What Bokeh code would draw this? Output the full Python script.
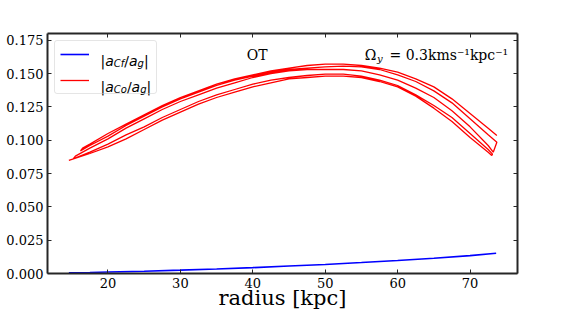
from bokeh.plotting import figure
from bokeh.models import (Range1d, LinearAxis, FixedTicker, PrintfTickFormatter,
                          CustomJSTickFormatter, Label, Legend, LegendItem)
from bokeh.embed import file_html
from bokeh.resources import INLINE

# ---------------- data ----------------
x_ticks = [20, 30, 40, 50, 60, 70]
y_ticks = [0.0, 0.025, 0.05, 0.075, 0.1, 0.125, 0.15, 0.175]
x_limits = [11.65, 76.55]
y_limits = [0.0, 0.18]

# |a_Cf/a_g|  (blue)
blue_r = [14.6, 17.5, 20, 25, 30, 35, 40, 45, 50, 55, 60, 65, 70, 73.6]
blue_v = [0.0006, 0.0008, 0.0011, 0.0017, 0.0025, 0.0034, 0.0044, 0.0056,
          0.0068, 0.0082, 0.0097, 0.0114, 0.0134, 0.0152]

# |a_Co/a_g|  (red) -- successive passes of the orbit
pass1_r = [14.6, 17.5, 20, 22.5, 25, 27.5, 30, 32.5, 35, 37.5, 40, 42.5, 45,
           47.5, 50, 52.5, 55, 57.5, 60, 62.5, 65, 67.5, 70, 72.5, 73.0]
pass1_v = [0.0848, 0.090, 0.095, 0.101, 0.108, 0.115, 0.121, 0.127, 0.132,
           0.136, 0.140, 0.143, 0.146, 0.147, 0.148, 0.148, 0.147, 0.144,
           0.140, 0.133, 0.124, 0.114, 0.102, 0.091, 0.0885]
pass2_r = [73.1, 72.5, 70, 67.5, 65, 62.5, 60, 57.5, 55, 52.5, 50, 47.5, 45,
           42.5, 40, 37.5, 35, 32.5, 30, 27.5, 25, 22.5, 20, 17.5, 15.2]
pass2_v = [0.0895, 0.093, 0.105, 0.117, 0.126, 0.134, 0.141, 0.145, 0.148,
           0.1495, 0.1495, 0.1485, 0.147, 0.145, 0.142, 0.138, 0.134, 0.129,
           0.123, 0.117, 0.110, 0.104, 0.097, 0.091, 0.086]
pass3_r = [15.5, 17.5, 20, 22.5, 25, 27.5, 30, 32.5, 35, 37.5, 40, 42.5, 45,
           47.5, 50, 52.5, 55, 57.5, 60, 62.5, 65, 67.5, 70, 72.5, 73.2]
pass3_v = [0.088, 0.094, 0.101, 0.109, 0.116, 0.123, 0.129, 0.134, 0.139,
           0.143, 0.147, 0.150, 0.152, 0.153, 0.153, 0.153, 0.152, 0.149,
           0.145, 0.139, 0.132, 0.122, 0.110, 0.096, 0.091]
pass4_r = [73.7, 72.5, 70, 67.5, 65, 62.5, 60, 57.5, 55, 52.5, 50, 47.5, 45,
           42.5, 40, 37.5, 35, 32.5, 30, 27.5, 25, 22.5, 20, 17.5, 16.2]
pass4_v = [0.0985, 0.104, 0.116, 0.128, 0.137, 0.144, 0.149, 0.153, 0.155,
           0.1555, 0.155, 0.154, 0.153, 0.151, 0.148, 0.145, 0.141, 0.136,
           0.131, 0.125, 0.118, 0.111, 0.103, 0.096, 0.092]
pass5_r = [16.5, 17.5, 20, 22.5, 25, 27.5, 30, 32.5, 35, 37.5, 40, 42.5, 45,
           47.5, 50, 52.5, 55, 57.5, 60, 62.5, 65, 67.5, 70, 72.5, 73.7]
pass5_v = [0.094, 0.097, 0.105, 0.112, 0.119, 0.126, 0.132, 0.137, 0.142,
           0.146, 0.149, 0.152, 0.154, 0.156, 0.157, 0.157, 0.156, 0.154,
           0.151, 0.146, 0.140, 0.131, 0.120, 0.109, 0.1035]

red_r = pass1_r + pass2_r + pass3_r + pass4_r + pass5_r
red_v = pass1_v + pass2_v + pass3_v + pass4_v + pass5_v

# ---------------- figure ----------------
SERIF = "DejaVu Serif"
SANS = "DejaVu Sans"
AX = "#262626"

p = figure(width=564, height=313, output_backend="svg", toolbar_location=None,
           x_range=Range1d(*x_limits), y_range=Range1d(*y_limits),
           min_border_left=47, min_border_right=47, min_border_top=33,
           min_border_bottom=40, background_fill_color="white",
           border_fill_color="white")
p.outline_line_color = None
p.xgrid.visible = False
p.ygrid.visible = False

bottom_ax = p.below[0]
left_ax = p.left[0]

rb = p.line(blue_r, blue_v, line_color="#0000ff", line_width=1.6)
rr = p.line(red_r, red_v, line_color="#ff0000", line_width=1.3)

right_ax = LinearAxis()
top_ax = LinearAxis()
p.add_layout(right_ax, "right")
p.add_layout(top_ax, "above")

for ax in [bottom_ax, top_ax]:
    ax.ticker = FixedTicker(ticks=x_ticks)
for ax in [left_ax, right_ax]:
    ax.ticker = FixedTicker(ticks=y_ticks)
left_ax.formatter = PrintfTickFormatter(format="%.3f")

for ax in [bottom_ax, left_ax, right_ax, top_ax]:
    ax.axis_line_color = AX
    ax.axis_line_width = 2
    ax.major_tick_line_color = AX
    ax.major_tick_line_width = 1
    ax.major_tick_in = 4
    ax.major_tick_out = 0
    ax.minor_tick_line_color = None
    ax.minor_tick_in = 0
    ax.minor_tick_out = 0
    ax.major_label_text_font = SERIF
    ax.major_label_text_font_size = "13px"
    ax.major_label_text_color = "black"
    ax.major_label_standoff = 4

# mirrored tick marks on top and right, without labels
for ax in [right_ax, top_ax]:
    ax.formatter = CustomJSTickFormatter(code="return ''")
    ax.major_label_standoff = 0

bottom_ax.axis_label = "radius [kpc]"
bottom_ax.axis_label_text_font = SERIF
bottom_ax.axis_label_text_font_size = "21px"
bottom_ax.axis_label_text_font_style = "normal"
bottom_ax.axis_label_text_color = "black"
bottom_ax.axis_label_standoff = -5

legend = Legend(items=[LegendItem(label=" ", renderers=[rb]),
                       LegendItem(label=" ", renderers=[rr])],
                location="top_left", margin=7, padding=5, spacing=10,
                glyph_width=29, glyph_height=16, label_height=16,
                label_width=50, label_standoff=12,
                border_line_color="#cccccc", border_line_width=1,
                background_fill_color="white", background_fill_alpha=0.0,
                label_text_alpha=0.0)
try:
    legend.border_radius = 3
except Exception:
    pass
p.add_layout(legend)


def txt(x, y, text, size, font=SERIF, style="normal", align="left"):
    p.add_layout(Label(x=x, y=y, x_units="screen", y_units="screen",
                       text=text, text_font=font, text_font_size=f"{size}px",
                       text_font_style=style, text_align=align,
                       text_baseline="alphabetic", text_color="black"))


# legend texts (mathtext-like)
for base_y, sub in [(213, "Cf"), (187, "Co")]:
    x = 53
    txt(x, base_y, "|", 14, SANS); x += 4.7
    txt(x, base_y, "a", 14, SANS, "italic"); x += 8.6
    txt(x, base_y - 3, sub, 10, SANS, "italic"); x += 10.5 if sub == "Cf" else 13.1
    txt(x, base_y, "/", 14, SANS); x += 4.7
    txt(x, base_y, "a", 14, SANS, "italic"); x += 8.6
    txt(x, base_y - 3, "g", 10, SANS, "italic"); x += 6.4
    txt(x, base_y, "|", 14, SANS)

# annotations in the panel
txt(209.7, 218.7, "OT", 14, SERIF, align="center")
txt(317.3, 218.7, "\u03a9", 14, SERIF)
txt(329.5, 215.5, "y", 10, SERIF, "italic")
txt(342, 218.7, "= 0.3kms\u207b\u00b9kpc\u207b\u00b9", 14, SERIF)

open("out.html", "w").write(file_html(p, INLINE))
